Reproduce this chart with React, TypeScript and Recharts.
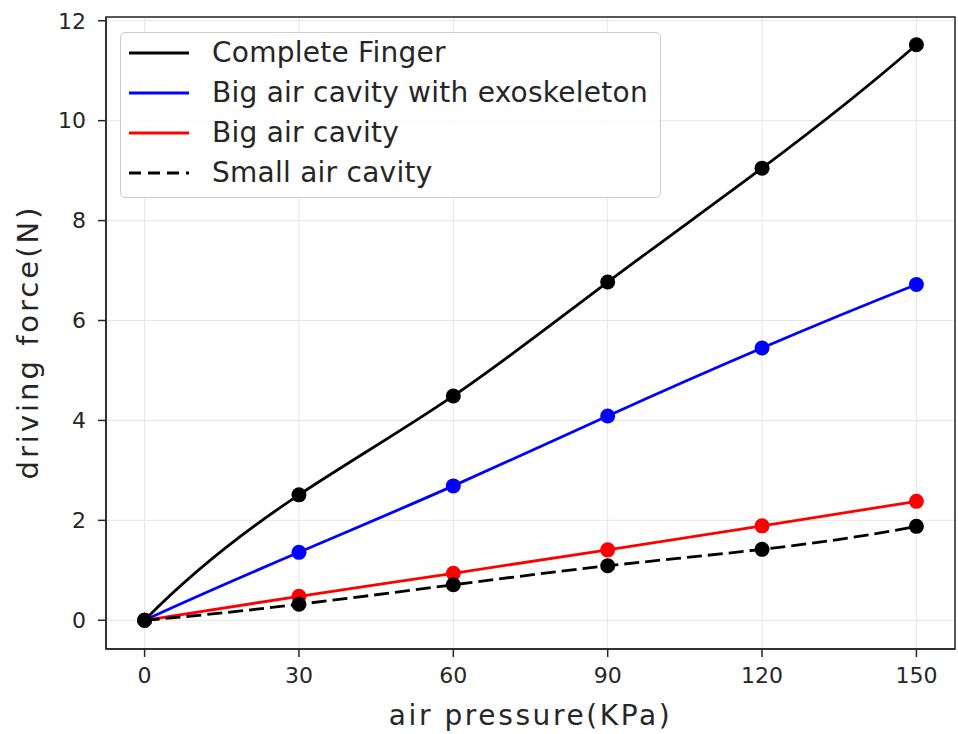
import { LineChart, Line, XAxis, YAxis, CartesianGrid, ReferenceArea, Label } from 'recharts';

const pressure = [0, 30, 60, 90, 120, 150];
const completeFinger = [0, 2.51, 4.49, 6.77, 9.05, 11.52];
const bigCavityExo = [0, 1.36, 2.69, 4.09, 5.45, 6.72];
const bigCavity = [0, 0.48, 0.94, 1.41, 1.89, 2.38];
const smallCavity = [0, 0.32, 0.71, 1.09, 1.42, 1.88];

const xTicks = [0, 30, 60, 90, 120, 150];
const yTicks = [0, 2, 4, 6, 8, 10, 12];

const series = [
    { key: 'complete', name: 'Complete Finger', color: '#000000', dash: undefined },
    { key: 'exo', name: 'Big air cavity with exoskeleton', color: '#0000ff', dash: undefined },
    { key: 'big', name: 'Big air cavity', color: '#ff0000', dash: undefined },
    { key: 'small', name: 'Small air cavity', color: '#000000', dash: '15 6' },
];

const data = pressure.map((p, i) => ({
    p,
    complete: completeFinger[i],
    exo: bigCavityExo[i],
    big: bigCavity[i],
    small: smallCavity[i],
}));

const FONT = '"DejaVu Sans", sans-serif';
const INK = '#262626';

// cubic spline with not-a-knot ends, used as a d3-style curve factory
function splineCurve(context: any) {
    let xs: number[] = [];
    let ys: number[] = [];
    return {
        areaStart() {},
        areaEnd() {},
        lineStart() {
            xs = [];
            ys = [];
        },
        point(x: number, y: number) {
            xs.push(+x);
            ys.push(+y);
        },
        lineEnd() {
            const n = xs.length;
            if (n === 0) return;
            context.moveTo(xs[0], ys[0]);
            if (n < 4) {
                for (let i = 1; i < n; i++) context.lineTo(xs[i], ys[i]);
                return;
            }
            const h = xs.slice(1).map((x, i) => x - xs[i]);
            const A: number[][] = [];
            const b: number[] = [];
            const row = () => new Array(n).fill(0);
            let r = row();
            r[0] = -h[1];
            r[1] = h[0] + h[1];
            r[2] = -h[0];
            A.push(r);
            b.push(0);
            for (let i = 1; i < n - 1; i++) {
                r = row();
                r[i - 1] = h[i - 1];
                r[i] = 2 * (h[i - 1] + h[i]);
                r[i + 1] = h[i];
                A.push(r);
                b.push(6 * ((ys[i + 1] - ys[i]) / h[i] - (ys[i] - ys[i - 1]) / h[i - 1]));
            }
            r = row();
            r[n - 3] = -h[n - 2];
            r[n - 2] = h[n - 3] + h[n - 2];
            r[n - 1] = -h[n - 3];
            A.push(r);
            b.push(0);
            // gaussian elimination
            for (let c = 0; c < n; c++) {
                let p = c;
                for (let k = c + 1; k < n; k++) if (Math.abs(A[k][c]) > Math.abs(A[p][c])) p = k;
                [A[c], A[p]] = [A[p], A[c]];
                [b[c], b[p]] = [b[p], b[c]];
                for (let k = c + 1; k < n; k++) {
                    const f = A[k][c] / A[c][c];
                    for (let j = c; j < n; j++) A[k][j] -= f * A[c][j];
                    b[k] -= f * b[c];
                }
            }
            const M = new Array(n).fill(0);
            for (let c = n - 1; c >= 0; c--) {
                let s = b[c];
                for (let j = c + 1; j < n; j++) s -= A[c][j] * M[j];
                M[c] = s / A[c][c];
            }
            for (let i = 0; i < n - 1; i++) {
                const hi = h[i];
                const sec = (ys[i + 1] - ys[i]) / hi;
                const d0 = sec - (hi * (2 * M[i] + M[i + 1])) / 6;
                const d1 = sec + (hi * (M[i] + 2 * M[i + 1])) / 6;
                context.bezierCurveTo(
                    xs[i] + hi / 3, ys[i] + (d0 * hi) / 3,
                    xs[i + 1] - hi / 3, ys[i + 1] - (d1 * hi) / 3,
                    xs[i + 1], ys[i + 1]
                );
            }
        },
    };
}

function LegendBox() {
    return (
        <div
            style={{
                position: 'absolute',
                left: 120,
                top: 32,
                width: 541,
                height: 166,
                border: '1.5px solid #cccccc',
                borderRadius: 5,
                background: 'rgba(255,255,255,0.85)',
                boxSizing: 'border-box',
                fontFamily: FONT,
                fontSize: 28,
                letterSpacing: 0.25,
                color: INK,
            }}
        >
            {series.map((s) => (
                <div key={s.key} style={{ display: 'flex', alignItems: 'center', height: 40 }}>
                    <svg width={91} height={20} style={{ flex: 'none' }}>
                        <line x1={8} y1={10} x2={68} y2={10} stroke={s.color} strokeWidth={2.8} strokeDasharray={s.dash ? '12 7' : undefined} />
                    </svg>
                    <span style={{ lineHeight: '40px' }}>{s.name}</span>
                </div>
            ))}
        </div>
    );
}

export default function App() {
    return (
        <div style={{ position: 'absolute', left: 0, top: 0, width: 958, height: 734, background: '#fff' }}>
            <LineChart width={958} height={734} data={data} margin={{ top: 17, right: 3, left: 6, bottom: 0 }}>
                <CartesianGrid stroke="#e6e6e6" strokeWidth={1} />
                <XAxis
                    dataKey="p"
                    type="number"
                    domain={[-7.5, 157.5]}
                    ticks={xTicks}
                    height={85}
                    tick={{ fill: INK, fontSize: 22, fontFamily: FONT }}
                    tickSize={8}
                    tickMargin={10}
                    stroke={INK}
                    strokeWidth={1.5}
                >
                    <Label
                        content={({ viewBox }: any) => (
                            <text
                                x={viewBox.x + viewBox.width / 2}
                                y={viewBox.y + 66}
                                textAnchor="middle"
                                dominantBaseline="central"
                                fontSize={28}
                                letterSpacing={2.6}
                                fontFamily={FONT}
                                fill={INK}
                            >
                                air pressure(KPa)
                            </text>
                        )}
                    />
                </XAxis>
                <YAxis
                    type="number"
                    domain={[-0.575, 12.075]}
                    ticks={yTicks}
                    width={100}
                    tick={{ fill: INK, fontSize: 22, fontFamily: FONT }}
                    tickSize={8}
                    tickMargin={12}
                    stroke={INK}
                    strokeWidth={1.5}
                >
                    <Label
                        content={({ viewBox }: any) => {
                            const x = viewBox.x + 22;
                            const y = 342;
                            return (
                                <text
                                    x={x}
                                    y={y}
                                    transform={`rotate(-90, ${x}, ${y})`}
                                    textAnchor="middle"
                                    dominantBaseline="central"
                                    fontSize={29}
                                    letterSpacing={3}
                                    fontFamily={FONT}
                                    fill={INK}
                                >
                                    driving force(N)
                                </text>
                            );
                        }}
                    />
                </YAxis>
                <ReferenceArea x1={-7.5} x2={157.5} y1={-0.575} y2={12.075} fill="none" stroke={INK} strokeWidth={1.5} />
                {series.map((s) => (
                    <Line
                        key={s.key}
                        type={splineCurve as any}
                        dataKey={s.key}
                        name={s.name}
                        stroke={s.color}
                        strokeWidth={2.8}
                        strokeDasharray={s.dash}
                        dot={{ r: 7.5, fill: s.color, stroke: 'none' }}
                        activeDot={false}
                        isAnimationActive={false}
                    />
                ))}
            </LineChart>
            <LegendBox />
        </div>
    );
}
